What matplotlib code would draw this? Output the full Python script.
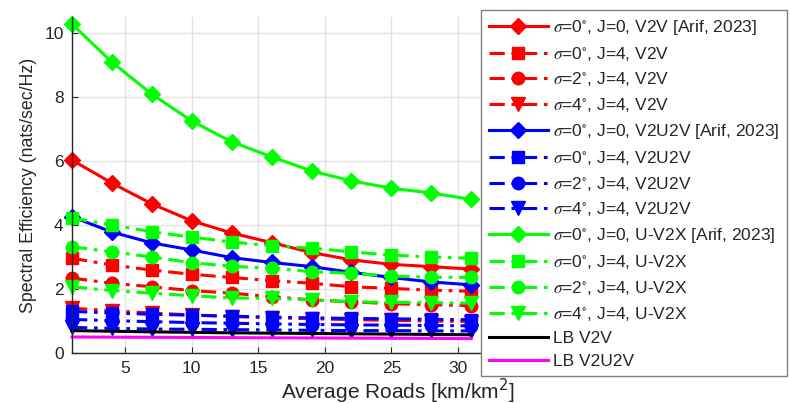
import matplotlib
matplotlib.use("Agg")
import matplotlib.pyplot as plt

plt.rcParams["font.family"] = ["Liberation Sans", "DejaVu Sans"]
plt.rcParams["mathtext.fontset"] = "stix"

# Road density (km/km^2)
roads = [1, 4, 7, 10, 13, 16, 19, 22, 25, 28, 31]

# V2V
v2v_s0_j0 = [6.03, 5.31, 4.66, 4.13, 3.75, 3.45, 3.14, 2.91, 2.77, 2.70, 2.62]
v2v_s0_j4 = [2.96, 2.75, 2.59, 2.46, 2.36, 2.26, 2.18, 2.07, 2.02, 1.96, 1.93]
v2v_s2_j4 = [2.34, 2.18, 2.07, 1.95, 1.87, 1.76, 1.66, 1.60, 1.54, 1.51, 1.48]
v2v_s4_j4 = [1.40, 1.32, 1.25, 1.19, 1.14, 1.10, 1.07, 1.04, 1.02, 1.00, 0.98]

# V2U2V
v2u2v_s0_j0 = [4.26, 3.78, 3.44, 3.22, 2.98, 2.83, 2.70, 2.52, 2.36, 2.22, 2.13]
v2u2v_s0_j4 = [1.30, 1.25, 1.21, 1.18, 1.15, 1.12, 1.10, 1.08, 1.07, 1.05, 1.04]
v2u2v_s2_j4 = [1.05, 1.01, 0.98, 0.95, 0.93, 0.91, 0.89, 0.88, 0.87, 0.86, 0.85]
v2u2v_s4_j4 = [0.80, 0.77, 0.75, 0.74, 0.73, 0.72, 0.71, 0.70, 0.70, 0.69, 0.69]

# U-V2X
uv2x_s0_j0 = [10.28, 9.09, 8.09, 7.25, 6.60, 6.13, 5.69, 5.38, 5.15, 5.00, 4.80]
uv2x_s0_j4 = [4.22, 4.00, 3.79, 3.62, 3.47, 3.35, 3.28, 3.16, 3.06, 3.00, 2.96]
uv2x_s2_j4 = [3.32, 3.16, 3.00, 2.82, 2.71, 2.65, 2.54, 2.49, 2.40, 2.37, 2.36]
uv2x_s4_j4 = [2.07, 1.95, 1.87, 1.79, 1.72, 1.71, 1.66, 1.60, 1.58, 1.57, 1.56]

# Lower bounds
lb_v2v = [0.70, 0.68, 0.66, 0.645, 0.63, 0.62, 0.61, 0.60, 0.59, 0.58, 0.57]
lb_v2u2v = [0.50, 0.495, 0.49, 0.485, 0.48, 0.475, 0.47, 0.465, 0.46, 0.455, 0.45]

xticks = [5, 10, 15, 20, 25, 30]
yticks = [0, 2, 4, 6, 8, 10]

W, H = 790, 403
fig = plt.figure(figsize=(W / 100, H / 100), dpi=100)
ax = fig.add_axes([72 / W, 50 / H, 652 / W, 336 / H])

dashdot = (0, (5, 2.2, 1.2, 2.2))
lw = 2.2

series = [
    (v2v_s0_j0, "r", "-", "D", 8, r"$\sigma$=0$^{\circ}$, J=0, V2V [Arif, 2023]"),
    (v2v_s0_j4, "r", dashdot, "s", 8, r"$\sigma$=0$^{\circ}$, J=4, V2V"),
    (v2v_s2_j4, "r", dashdot, "o", 9, r"$\sigma$=2$^{\circ}$, J=4, V2V"),
    (v2v_s4_j4, "r", dashdot, "v", 10, r"$\sigma$=4$^{\circ}$, J=4, V2V"),
    (v2u2v_s0_j0, "b", "-", "D", 8, r"$\sigma$=0$^{\circ}$, J=0, V2U2V [Arif, 2023]"),
    (v2u2v_s0_j4, "b", dashdot, "s", 8, r"$\sigma$=0$^{\circ}$, J=4, V2U2V"),
    (v2u2v_s2_j4, "b", dashdot, "o", 9, r"$\sigma$=2$^{\circ}$, J=4, V2U2V"),
    (v2u2v_s4_j4, "b", dashdot, "v", 10, r"$\sigma$=4$^{\circ}$, J=4, V2U2V"),
    (uv2x_s0_j0, "#00ff00", "-", "D", 8, r"$\sigma$=0$^{\circ}$, J=0, U-V2X [Arif, 2023]"),
    (uv2x_s0_j4, "#00ff00", dashdot, "s", 8, r"$\sigma$=0$^{\circ}$, J=4, U-V2X"),
    (uv2x_s2_j4, "#00ff00", dashdot, "o", 9, r"$\sigma$=2$^{\circ}$, J=4, U-V2X"),
    (uv2x_s4_j4, "#00ff00", dashdot, "v", 10, r"$\sigma$=4$^{\circ}$, J=4, U-V2X"),
    (lb_v2v, "k", "-", None, 0, "LB V2V"),
    (lb_v2u2v, "#ff00ff", "-", None, 0, "LB V2U2V"),
]

handles = []
for ys, c, ls, mk, ms, lab in series:
    (h,) = ax.plot(roads, ys, color=c, linestyle=ls, linewidth=lw,
                   marker=mk, markersize=ms, markerfacecolor=c,
                   markeredgecolor=c, clip_on=False, label=lab)
    handles.append(h)

ax.set_xlim(1, 50)
ax.set_ylim(0, 10.5)
ax.set_xticks(xticks)
ax.set_yticks(yticks)
ax.grid(True, color="#e3e3e3", linewidth=1.0)
ax.set_axisbelow(True)
for side in ("top", "right"):
    ax.spines[side].set_visible(False)
for side in ("left", "bottom"):
    ax.spines[side].set_color("#262626")
    ax.spines[side].set_linewidth(1.0)
ax.tick_params(direction="in", length=4, colors="#262626", labelsize=12.5,
               labelcolor="#262626")
ax.tick_params(axis="x", pad=6)
ax.tick_params(axis="y", pad=6)

ax.set_xlabel(r"Average Roads [km/km$^2$]", fontsize=15, color="#262626",
              labelpad=0)
ax.set_ylabel("Spectral Efficiency (nats/sec/Hz)", fontsize=12.8,
              color="#262626", labelpad=5)
ax.xaxis.get_label().set_math_fontfamily("dejavusans")

leg = fig.legend(handles=handles, loc="upper left",
                 bbox_to_anchor=(481 / W, 1 - 10 / H),
                 bbox_transform=fig.transFigure,
                 fontsize=12.5, frameon=True, fancybox=False,
                 edgecolor="#808080", framealpha=1.0,
                 handlelength=3.4, handletextpad=0.3, labelspacing=0.45,
                 borderpad=0.45, borderaxespad=0)
leg.get_frame().set_linewidth(1.0)
for t in leg.get_texts():
    t.set_color("#262626")

fig.savefig("out.png", dpi=100)
